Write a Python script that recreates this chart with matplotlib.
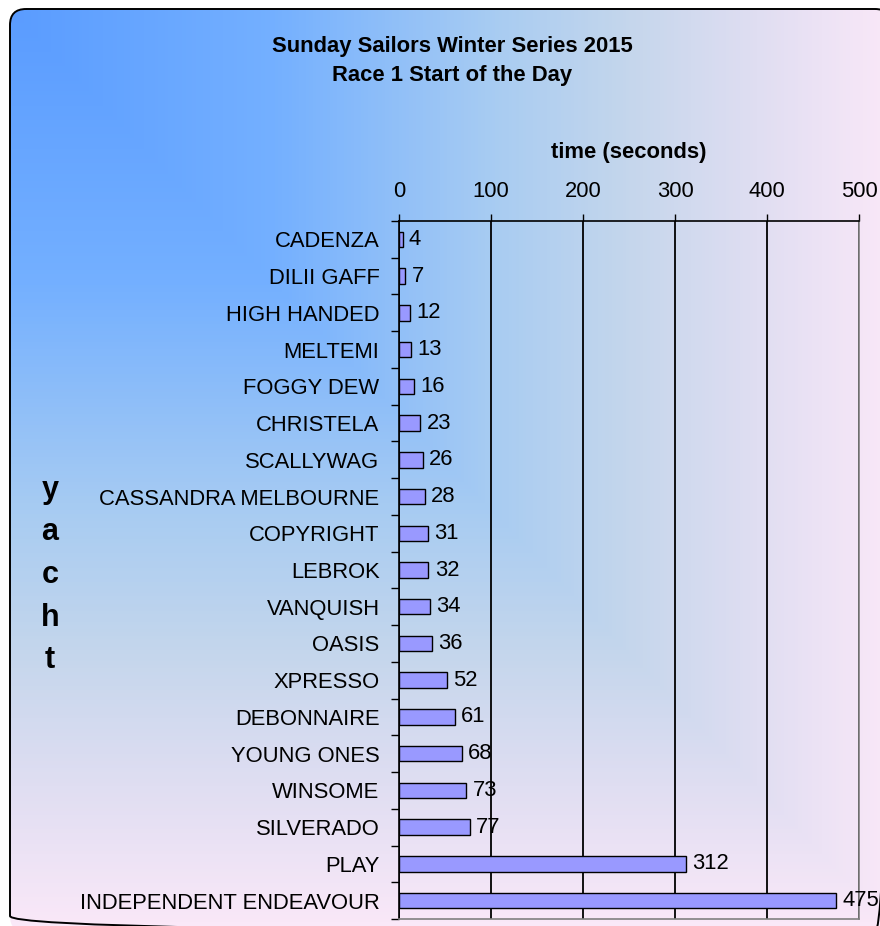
import numpy as np
import matplotlib
matplotlib.use('Agg')
import matplotlib.pyplot as plt
from matplotlib.colors import LinearSegmentedColormap
from matplotlib.patches import FancyBboxPatch
from matplotlib.ticker import FixedLocator

plt.rcParams['font.family'] = ['Liberation Sans', 'DejaVu Sans']

# data
yachts = ['CADENZA', 'DILII GAFF', 'HIGH HANDED', 'MELTEMI', 'FOGGY DEW',
          'CHRISTELA', 'SCALLYWAG', 'CASSANDRA MELBOURNE', 'COPYRIGHT',
          'LEBROK', 'VANQUISH', 'OASIS', 'XPRESSO', 'DEBONNAIRE',
          'YOUNG ONES', 'WINSOME', 'SILVERADO', 'PLAY',
          'INDEPENDENT ENDEAVOUR']
times = [4, 7, 12, 13, 16, 23, 26, 28, 31, 32, 34, 36, 52, 61, 68, 73, 77, 312, 475]
xticks = [0, 100, 200, 300, 400, 500]

title = 'Sunday Sailors Winter Series 2015\nRace 1 Start of the Day'
xlabel = 'time (seconds)'
ylabel = 'yacht'

W, H = 880, 926
fs = 15.8
fig = plt.figure(figsize=(W / 100, H / 100), dpi=100)
fig.patch.set_facecolor('white')

# background: rounded frame filled with a corner gradient
bg = fig.add_axes([0, 0, 1, 1])
bg.set_xlim(0, W)
bg.set_ylim(H, 0)
bg.axis('off')
x0, y0, x1, y1 = 10, 9, 891, 932
frame = FancyBboxPatch((x0, y0), x1 - x0, y1 - y0,
                       boxstyle='round,pad=0,rounding_size=16',
                       facecolor='none', edgecolor='black', linewidth=1.4, zorder=3)
bg.add_patch(frame)
xx, yy = np.meshgrid(np.arange(W) + 0.5, np.arange(H) + 0.5)
t = np.maximum((xx - x0) / (x1 - x0), (yy - y0) / (H - y0)).clip(0, 1)
cmap = LinearSegmentedColormap.from_list('bg', [
    (0.0, '#5a9cff'), (0.3, '#74b0ff'), (0.55, '#a8ccf2'),
    (0.7, '#c4d6ec'), (0.85, '#e0def2'), (1.0, '#fae8f8')])
img = bg.imshow(t, cmap=cmap, vmin=0, vmax=1, extent=(0, W, H, 0),
                aspect='auto', interpolation='bilinear', zorder=1)
img.set_clip_path(frame)

# main chart
ax = fig.add_axes([399 / W, 1 - 919 / H, 460 / W, 698 / H])
ax.patch.set_alpha(0)
y = np.arange(len(yachts))
ax.barh(y, times, height=0.42, color='#9999ff', edgecolor='black', linewidth=1, zorder=2)
for yi, v in zip(y, times):
    ax.annotate(str(v), (v, yi), xytext=(4.5, 0), textcoords='offset points',
                va='center', ha='left', fontsize=fs)

ax.set_xlim(0, 500)
ax.set_ylim(len(yachts) - 0.5, -0.5)
ax.xaxis.tick_top()
ax.xaxis.set_label_position('top')
ax.set_xticks(xticks)
ax.tick_params(axis='x', length=5, width=1, pad=9, labelsize=fs, direction='out')
ax.set_xlabel(xlabel, fontsize=fs, fontweight='bold', labelpad=16)

ax.set_yticks(y)
ax.set_yticklabels(yachts)
ax.tick_params(axis='y', which='major', length=0, pad=14, labelsize=fs)
ax.yaxis.set_minor_locator(FixedLocator(np.arange(len(yachts) + 1) - 0.5))
ax.tick_params(axis='y', which='minor', length=6, width=1, direction='out')

ax.grid(axis='x', color='black', linewidth=1.3)
ax.set_axisbelow(True)
ax.spines['top'].set_color('black')
ax.spines['left'].set_color('black')
ax.spines['right'].set_color('#808080')
ax.spines['bottom'].set_color('#808080')
for s in ax.spines.values():
    s.set_linewidth(1.2)

fig.text(452 / W, 1 - 61 / H, title, ha='center', va='center',
         fontsize=fs, fontweight='bold', linespacing=1.5)
fig.text(50 / W, 1 - 575 / H, '\n'.join(ylabel), ha='center', va='center',
         fontsize=22, fontweight='bold', linespacing=1.55)

fig.savefig('out.png', dpi=100)
